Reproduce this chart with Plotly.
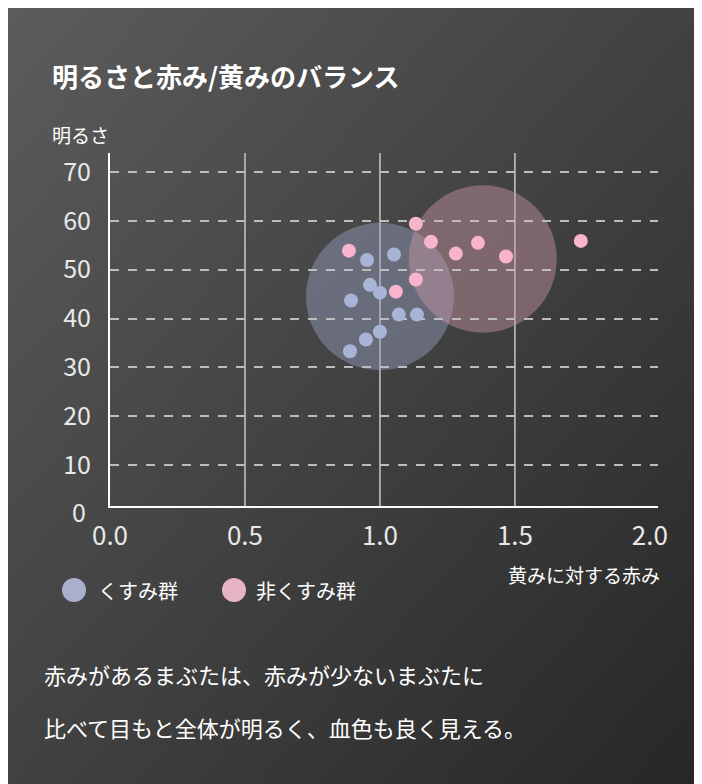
import base64
import plotly.graph_objects as go

# くすみ群 (dull group)
dull_x = [0.952, 1.052, 0.963, 1.0, 0.893, 1.07, 1.137, 1.0, 0.948, 0.889]
dull_y = [52.0, 53.1, 46.9, 45.3, 43.7, 40.8, 40.8, 37.3, 35.7, 33.3]
# 非くすみ群 (non-dull group)
clear_x = [0.885, 1.133, 1.189, 1.281, 1.363, 1.467, 1.744, 1.133, 1.059]
clear_y = [53.9, 59.4, 55.7, 53.3, 55.5, 52.7, 55.9, 48.0, 45.5]

# group centres and spread (x units, y units)
centers = [(1.0, 44.5), (1.381, 52.2)]
radius_x = 0.274
radius_y = 15.1

x_ticks = [0.0, 0.5, 1.0, 1.5, 2.0]
y_ticks = [10, 20, 30, 40, 50, 60, 70]

FONT = "Noto Sans CJK JP"
blue = "#a8b4d6"
pink = "#f8b4cc"

# plot area in page pixels
L, R, T, B = 102, 650, 145, 498
PW, PH = R - L, B - T


def px_x(px):
    return (px - L) / PW


def px_y(py):
    return (B - py) / PH


svg = ('<svg xmlns="http://www.w3.org/2000/svg" width="702" height="784">'
       '<defs><linearGradient id="g" x1="0" y1="0" x2="1" y2="1">'
       '<stop offset="0" stop-color="#5c5c5c"/><stop offset="1" stop-color="#262626"/>'
       '</linearGradient></defs><rect width="702" height="784" fill="url(#g)"/></svg>')
bg = "data:image/svg+xml;base64," + base64.b64encode(svg.encode()).decode()

fig = go.Figure()
fig.add_trace(go.Scatter(x=dull_x, y=dull_y, mode="markers", name="くすみ群",
                         marker=dict(size=14, color=blue), showlegend=False))
fig.add_trace(go.Scatter(x=clear_x, y=clear_y, mode="markers", name="非くすみ群",
                         marker=dict(size=14, color=pink), showlegend=False))

circle_colors = ["rgba(150,160,190,0.45)", "rgba(200,150,165,0.45)"]
for (cx, cy), col in zip(centers, circle_colors):
    fig.add_shape(type="circle", xref="x", yref="y", layer="below",
                  x0=cx - radius_x, x1=cx + radius_x, y0=cy - radius_y, y1=cy + radius_y,
                  fillcolor=col, line_width=0)

for xv in [0.5, 1.0, 1.5]:
    fig.add_shape(type="line", xref="x", yref="paper", x0=xv, x1=xv, y0=0, y1=1,
                  line=dict(color="#c8c8c8", width=1.5), layer="below")

anns = [
    (42, 67, "<b>明るさと赤み/黄みのバランス</b>", 26, "left"),
    (42, 126, "明るさ", 19, "left"),
    (654, 566, "黄みに対する赤み", 19, "right"),
    (34, 666, "赤みがあるまぶたは、赤みが少ないまぶたに", 22, "left"),
    (34, 719, "比べて目もと全体が明るく、血色も良く見える。", 22, "left"),
    (88, 582, "くすみ群", 20, "left"),
    (246, 582, "非くすみ群", 20, "left"),
]
for px, py, txt, sz, anc in anns:
    fig.add_annotation(x=px_x(px), y=px_y(py), xref="paper", yref="paper", text=txt,
                       showarrow=False, xanchor=anc, yanchor="middle",
                       font=dict(size=sz, color="#ffffff", family=FONT))
fig.add_annotation(x=px_x(80), y=px_y(503), xref="paper", yref="paper", text="0",
                   showarrow=False, xanchor="right", yanchor="middle",
                   font=dict(size=25, color="#e8e8e8", family=FONT))
for px, col in [(66, "#a9b0cc"), (226, "#e6b3c3")]:
    fig.add_shape(type="circle", xref="paper", yref="paper",
                  x0=px_x(px - 12), x1=px_x(px + 12),
                  y0=px_y(582 + 12), y1=px_y(582 - 12),
                  fillcolor=col, line_width=0)

fig.update_layout(
    width=702, height=784,
    margin=dict(l=L, r=702 - R, t=T, b=784 - B),
    paper_bgcolor="#3c3c3c", plot_bgcolor="rgba(0,0,0,0)",
    font=dict(family=FONT, color="#e8e8e8"),
    images=[dict(source=bg, xref="paper", yref="paper", x=px_x(0), y=px_y(0),
                 sizex=702 / PW, sizey=784 / PH, sizing="stretch", layer="below",
                 xanchor="left", yanchor="top")],
    xaxis=dict(range=[0, 2.03], tickvals=x_ticks, ticktext=[f"{v:.1f}" for v in x_ticks],
               showgrid=False, zeroline=False, showline=True, linecolor="#ffffff",
               linewidth=2, tickfont=dict(size=26), ticks="", ticklabelstandoff=6),
    yaxis=dict(range=[1.6, 73.9], tickvals=y_ticks, showgrid=True, gridcolor="#bdbdbd",
               griddash="dash", gridwidth=1.5, zeroline=False, showline=True,
               linecolor="#ffffff", linewidth=2, tickfont=dict(size=25), ticks="",
               ticklabelstandoff=12),
)

fig.write_html("out.html")
